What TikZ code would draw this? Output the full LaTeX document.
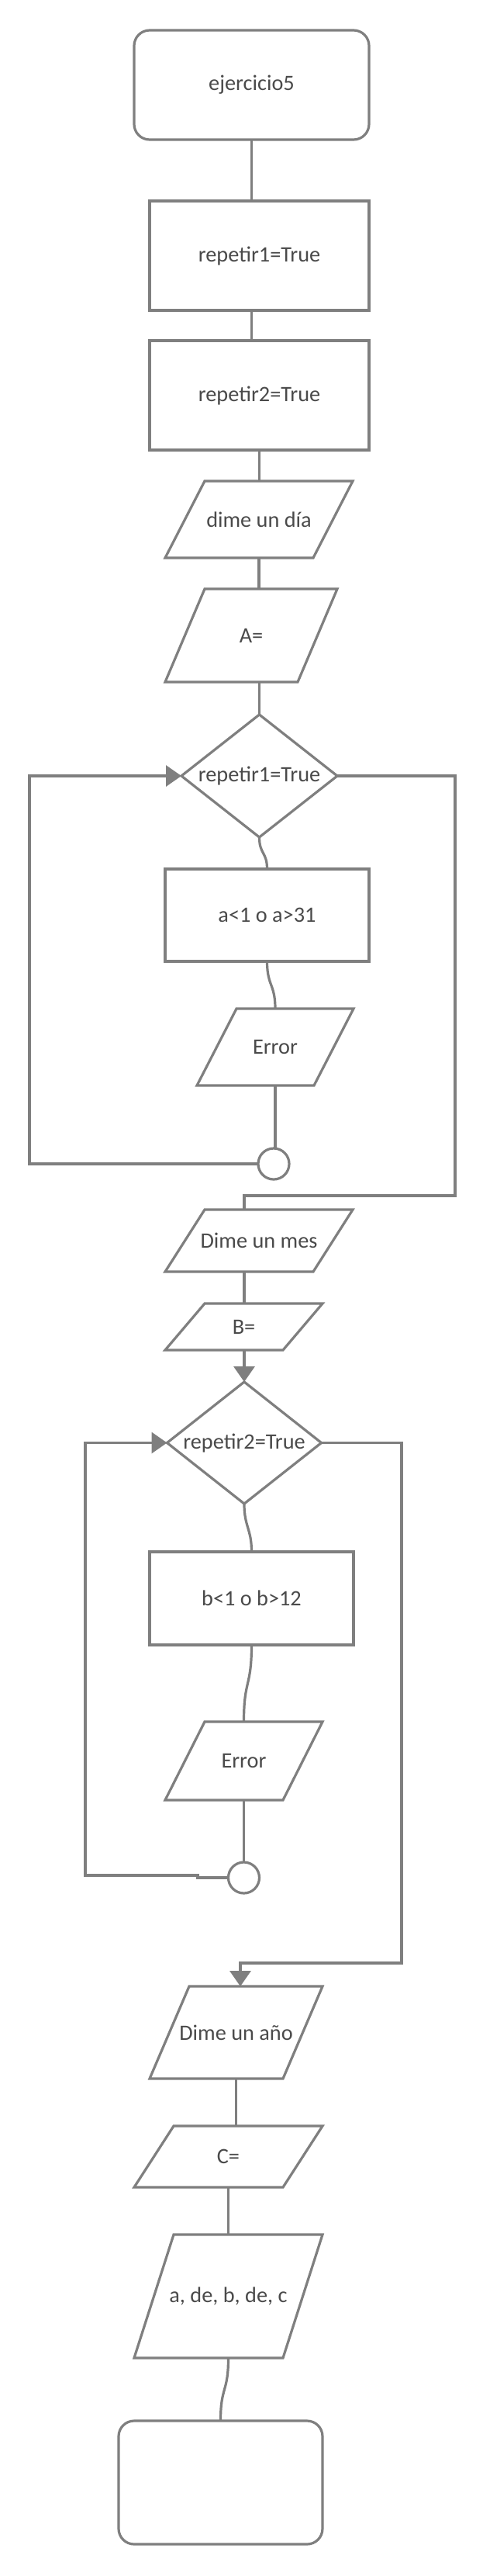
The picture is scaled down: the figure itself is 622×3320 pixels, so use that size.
\documentclass[tikz,border=0pt]{standalone}
\usepackage{fontspec}
\setmainfont{Carlito}
\usetikzlibrary{arrows.meta,shapes.geometric,calc}
\definecolor{ln}{HTML}{7F7F7F}
\definecolor{tx}{HTML}{4A4A4A}
\newcommand{\ionode}[6]{%
  \node[iotext, minimum width=#4pt, minimum height=#5pt] (#1) at (#2,#3) {#6};
  \draw[line, line join=miter] ([xshift=51pt]#1.north west) -- (#1.north east) -- ([xshift=-51pt]#1.south east) -- (#1.south west) -- cycle;
}
\begin{document}
\begin{tikzpicture}[x=1pt,y=-1pt,
  line/.style={draw=ln, line width=3.2pt},
  txtfont/.style={text=tx, font=\fontsize{28.3}{34}\selectfont},
  base/.style={line, txtfont, inner sep=0pt, outer sep=0pt},
  term/.style={base, rectangle, rounded corners=20pt},
  procbox/.style={base, rectangle},
  iotext/.style={txtfont, inner sep=0pt, outer sep=0pt},
  dec/.style={base, diamond},
  joinpt/.style={base, circle, minimum size=40pt},
  flow/.style={line, -{Triangle[length=20pt,width=27pt]}},
]
\useasboundingbox[fill=white] (0,0) rectangle (622,3320);

% nodes
\node[term, minimum width=303pt, minimum height=141pt] (st) at (324.5,109.5) {ejercicio5};
\node[procbox, minimum width=283pt, minimum height=141pt] (b1) at (334.5,329.5) {repetir1=True};
\node[procbox, minimum width=283pt, minimum height=141pt] (b2) at (334.5,509.5) {repetir2=True};
\ionode{dia}{334}{669.5}{242}{99}{dime un día}
\ionode{aeq}{324}{819}{222}{120}{A=}
\node[dec, minimum width=201pt, minimum height=158pt] (d1) at (334.5,1000) {};
\node[iotext] (d1t) at (d1.center) {repetir1=True};
\node[procbox, minimum width=263pt, minimum height=119pt] (ba) at (344.5,1179.5) {a<1 o a>31};
\ionode{e1}{355}{1349.5}{202}{99}{Error}
\node[joinpt] (c1) at (353,1500) {};
\ionode{mes}{334}{1599}{242}{80}{Dime un mes}
\ionode{beq}{314.5}{1710}{203}{60}{B=}
\node[dec, minimum width=199pt, minimum height=157pt] (d2) at (315,1859.5) {};
\node[iotext] (d2t) at (d2.center) {repetir2=True};
\node[procbox, minimum width=263pt, minimum height=120pt] (bb) at (324.5,2060) {b<1 o b>12};
\ionode{e2}{314.5}{2269.5}{203}{101}{Error}
\node[joinpt] (c2) at (314.5,2420) {};
\ionode{ano}{304.5}{2619.5}{223}{119}{Dime un año}
\ionode{ceq}{294.5}{2779.5}{243}{79}{C=}
\ionode{out}{294.5}{2959.5}{243}{159}{a, de, b, de, c}
\node[term, minimum width=263pt, minimum height=159pt] (fin) at (284.5,3199.5) {};

% bend points
\coordinate (k1) at (38,1500);
\coordinate (k2) at (587,1541);
\coordinate (k3) at (315,1541);
\coordinate (k4) at (110,2417);
\coordinate (k5) at (255,2420);
\coordinate (k6) at (255,2417);
\coordinate (k7) at (518,2530);
\coordinate (k8) at (310,2530);

% connectors
\draw[line] (st.south) -- (st.south |- b1.north);
\draw[line] (st.south |- b1.south) -- (st.south |- b2.north);
\draw[line] (b2.south) -- (b2.south |- dia.north);
\draw[line] (dia.south) -- (dia.south |- aeq.north);
\draw[line] (d1.north |- aeq.south) -- (d1.north);
\draw[line] (d1.south) .. controls +(0,22) and +(0,-22) .. (ba.north);
\draw[line] (ba.south) .. controls +(0,32) and +(0,-32) .. (e1.north);
\draw[line] (e1.south) -- (e1.south |- c1.north);
\draw[flow] (c1.west) -- (k1) |- (d1.west);
\draw[line] (d1.east) -| (k2) -- (k3) -- (k3 |- mes.north);
\draw[line] (k3 |- mes.south) -- (k3 |- beq.north);
\draw[flow] (d2.north |- beq.south) -- (d2.north);
\draw[line] (d2.south) .. controls +(0,30) and +(0,-30) .. (bb.north);
\draw[line] (bb.south) .. controls +(0,55) and +(0,-55) .. (e2.north);
\draw[line] (e2.south) -- (c2.north);
\draw[flow] (c2.west) -- (k5) -- (k6) -- (k4) |- (d2.west);
\draw[flow] (d2.east) -| (k7) -- (k8) -- (k8 |- ano.north);
\draw[line] (ano.south) -- (ano.south |- ceq.north);
\draw[line] (ceq.south) -- (out.north);
\draw[line] (out.south) .. controls +(0,45) and +(0,-45) .. (fin.north);
\end{tikzpicture}
\end{document}
